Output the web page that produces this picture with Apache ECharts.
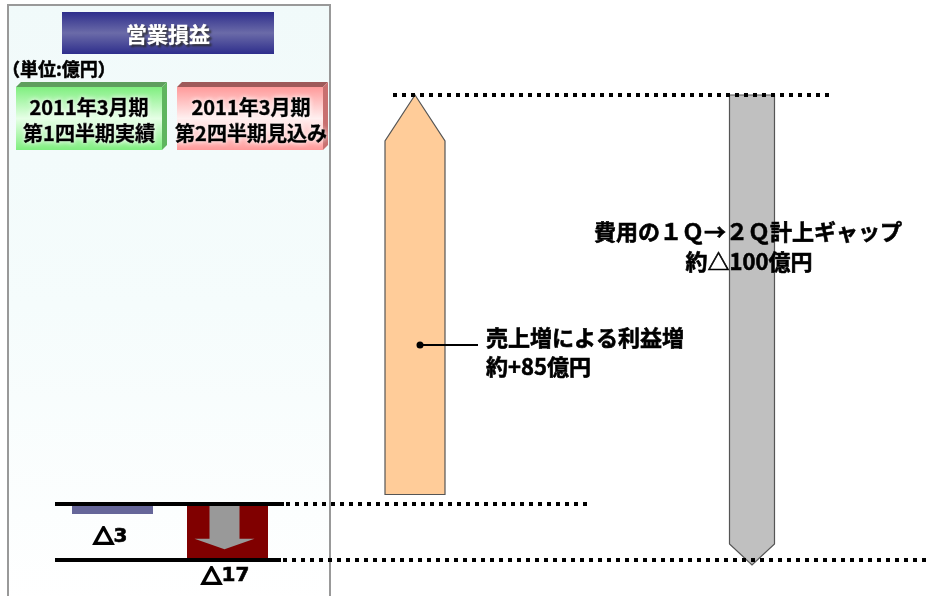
<!DOCTYPE html>
<html><head><meta charset="utf-8">
<script src="https://cdn.jsdelivr.net/npm/echarts@6/dist/echarts.min.js"></script>
<style>html,body{margin:0;padding:0;background:#fff}#c{width:927px;height:596px}</style>
</head><body><div id="c"></div>
<script>
// ---- data ----
const chartTitle = '営業損益';
const unitLabel = '（単位:億円）';
const periodCategories = ['2011年3月期\n第1四半期実績', '2011年3月期\n第2四半期見込み'];
const periodValues = [-3, -17];
const periodLabels = ['△3', '△17'];
const bridgeCategories = ['売上増による利益増', '費用の１Ｑ→２Ｑ計上ギャップ'];
const bridgeDeltas = [85, -100];
const bridgeNotes = ['約+85億円', '約△100億円'];

// ---- styles ----
const FONT = '"Noto Sans CJK JP", "Noto Sans", sans-serif';
const periodColors = ['#666699', '#800000'];
const periodDownArrow = [false, true];
const periodLabelGap = [23, 16];
const bridgeColors = ['#FFCC99', '#C0C0C0'];
const bridgeWidths = [60, 45];
const bridgeHeads = [46, 21];

// waterfall levels (start from first period value)
let level = periodValues[0];
const bridgeData = bridgeDeltas.map((d, i) => { const s = level; level += d; return [i, s, level]; });
const allLevels = bridgeData.flatMap(d => [d[1], d[2]]);

const chart = echarts.init(document.getElementById('c'), null, { renderer: 'canvas' });

const option = {
  animation: false,
  backgroundColor: '#ffffff',
  grid: [
    { left: 55, width: 230, top: 504, height: 56 },
    { left: 246.5, width: 674, top: 95, height: 470 }
  ],
  xAxis: [
    { type: 'category', gridIndex: 0, data: periodCategories, show: false },
    { type: 'category', gridIndex: 1, data: bridgeCategories, show: false }
  ],
  yAxis: [
    { type: 'value', gridIndex: 0, min: Math.min(0, ...periodValues), max: Math.max(0, ...periodValues), show: false },
    { type: 'value', gridIndex: 1, min: Math.min(...allLevels), max: Math.max(...allLevels), show: false }
  ],
  series: [
    {
      type: 'custom', xAxisIndex: 0, yAxisIndex: 0, z: 3,
      data: periodValues.map((v, i) => [i, v]),
      renderItem(params, api) {
        const i = api.value(0), v = api.value(1);
        const p0 = api.coord([i, 0]), p1 = api.coord([i, v]);
        const w = 81;
        const children = [{
          type: 'rect',
          shape: { x: p0[0] - w / 2, y: p0[1], width: w, height: p1[1] - p0[1] },
          style: { fill: periodColors[i] }
        }];
        if (periodDownArrow[i]) {
          const h = p1[1] - p0[1];
          const cx = p0[0] - 3;
          const top = p0[1] + 1;
          const sb = p0[1] + h * 0.62;
          const tip = p0[1] + h * 0.81;
          children.push({
            type: 'polygon',
            shape: { points: [[cx - 15, top], [cx + 15, top], [cx + 15, sb], [cx + 30, sb], [cx, tip], [cx - 30, sb], [cx - 15, sb]] },
            style: { fill: '#999999' }
          });
        }
        children.push({
          type: 'text',
          style: {
            text: periodLabels[i].replace('△', '{t|△}'), x: p0[0] - 2, y: p1[1] + periodLabelGap[i],
            align: 'center', verticalAlign: 'middle',
            font: 'bold 20px "DejaVu Sans", ' + FONT, fill: '#000', stroke: '#000', lineWidth: 0.6,
            rich: { t: { font: 'bold 20px ' + FONT, fill: '#000', stroke: '#000', lineWidth: 2.4 } }
          }
        });
        return { type: 'group', children };
      }
    },
    {
      type: 'custom', xAxisIndex: 1, yAxisIndex: 1, z: 2,
      data: bridgeData,
      renderItem(params, api) {
        const i = api.value(0), s = api.value(1), e = api.value(2);
        const p0 = api.coord([i, s]), p1 = api.coord([i, e]);
        const w = bridgeWidths[i], hd = bridgeHeads[i];
        const cx = p0[0], l = cx - w / 2, r = cx + w / 2;
        const up = e > s;
        const sh = up ? p1[1] + hd : p1[1] - hd;
        return {
          type: 'polygon',
          shape: { points: [[l, p0[1]], [l, sh], [cx, p1[1]], [r, sh], [r, p0[1]]] },
          style: { fill: bridgeColors[i], stroke: '#555555', lineWidth: 1.2 }
        };
      }
    }
  ]
};
chart.setOption(option);

const y0 = chart.convertToPixel({ yAxisIndex: 0 }, 0);
const yQ2 = chart.convertToPixel({ yAxisIndex: 0 }, periodValues[1]);
const yTop = chart.convertToPixel({ yAxisIndex: 1 }, Math.max(...allLevels));

const LG = (stops) => new echarts.graphic.LinearGradient(0, 0, 0, 1, stops.map((c, k) => ({ offset: k / (stops.length - 1), color: c })));

function box3d(x0, x1, y0b, y1, front, bevel, side) {
  return [
    { type: 'polygon', z: 1, shape: { points: [[x0, y0b + 5], [x0 + 5, y0b], [x1 + 5, y0b], [x1, y0b + 5]] }, style: { fill: bevel } },
    { type: 'polygon', z: 1, shape: { points: [[x1, y0b + 5], [x1 + 5, y0b], [x1 + 5, y1 - 5], [x1, y1]] }, style: { fill: side } },
    { type: 'rect', z: 1, shape: { x: x0, y: y0b + 5, width: x1 - x0, height: y1 - y0b - 5 }, style: { fill: front } }
  ];
}
function boxText(txt, cx, cy) {
  return {
    type: 'text', z: 5,
    style: {
      text: txt, x: cx, y: cy, align: 'center', verticalAlign: 'middle',
      font: 'bold 20px ' + FONT, fill: '#000', lineHeight: 26, stroke: '#000', lineWidth: 0.6,
      textShadowColor: '#ffffff', textShadowBlur: 5
    }
  };
}
function bigText(txt, x, y, align) {
  return { type: 'text', z: 7, style: { text: txt, x, y, align, verticalAlign: 'middle',
    font: 'bold 22px ' + FONT, fill: '#000', stroke: '#000', lineWidth: 0.6 } };
}
const catLines = periodCategories.map(c => c.split('\n'));

const graphics = [
  // left panel
  { type: 'rect', z: 0, shape: { x: 8, y: 5, width: 322, height: 600 },
    style: { fill: LG(['#F1FAFA', '#F5FCFC', '#FFFFFF']), stroke: '#999999', lineWidth: 2 } },
  // title box
  { type: 'rect', z: 1, shape: { x: 62, y: 12, width: 212, height: 42 },
    style: { fill: LG(['#2E2E8C', '#6B6BA8', '#2E2E8C']) } },
  { type: 'text', z: 5, style: { text: chartTitle, x: 168, y: 34, align: 'center', verticalAlign: 'middle',
      font: 'bold 21px ' + FONT, fill: '#ffffff', stroke: '#ffffff', lineWidth: 0.5,
      textShadowColor: 'rgba(40,40,40,0.8)', textShadowOffsetX: 2, textShadowOffsetY: 2, textShadowBlur: 2 } },
  { type: 'text', z: 5, style: { text: unitLabel, x: 2, y: 69, align: 'left', verticalAlign: 'middle',
      font: 'bold 18px ' + FONT, fill: '#000', stroke: '#000', lineWidth: 0.5 } },
  ...box3d(16, 162, 82, 150, LG(['#7FEF7F', '#E6FFE6', '#7FEF7F']), '#5E9E5E', '#5FB55F'),
  ...box3d(177, 323, 82, 150, LG(['#FF9A9A', '#FFF0F0', '#FF9A9A']), '#9E5A5A', '#C87070'),
  boxText(catLines[0].join('\n'), 89, 120),
  boxText(catLines[1].join('\n'), 251, 120),
  // baseline lines
  { type: 'line', z: 6, shape: { x1: 55, y1: y0, x2: 284, y2: y0 }, style: { stroke: '#000', lineWidth: 4 } },
  { type: 'line', z: 6, shape: { x1: 55, y1: yQ2, x2: 281, y2: yQ2 }, style: { stroke: '#000', lineWidth: 4 } },
  // dotted connectors
  { type: 'line', z: 6, shape: { x1: 286, y1: y0, x2: 592, y2: y0 }, style: { stroke: '#000', lineWidth: 4, lineDash: [4, 5] } },
  { type: 'line', z: 6, shape: { x1: 283, y1: yQ2, x2: 926, y2: yQ2 }, style: { stroke: '#000', lineWidth: 4, lineDash: [4, 5] } },
  { type: 'line', z: 6, shape: { x1: 393, y1: yTop, x2: 830, y2: yTop }, style: { stroke: '#000', lineWidth: 4, lineDash: [4, 5] } },
  // callout for sales increase
  { type: 'circle', z: 7, shape: { cx: 420, cy: 345, r: 3.5 }, style: { fill: '#000' } },
  { type: 'line', z: 7, shape: { x1: 420, y1: 345, x2: 478, y2: 345 }, style: { stroke: '#000', lineWidth: 2 } },
  bigText(bridgeCategories[0], 486, 338, 'left'),
  bigText(bridgeNotes[0], 486, 367, 'left'),
  // cost gap label
  bigText(bridgeCategories[1], 748, 232, 'center'),
  bigText(bridgeNotes[1], 749, 262, 'center')
];
chart.setOption({ graphic: graphics });
</script>
</body></html>
